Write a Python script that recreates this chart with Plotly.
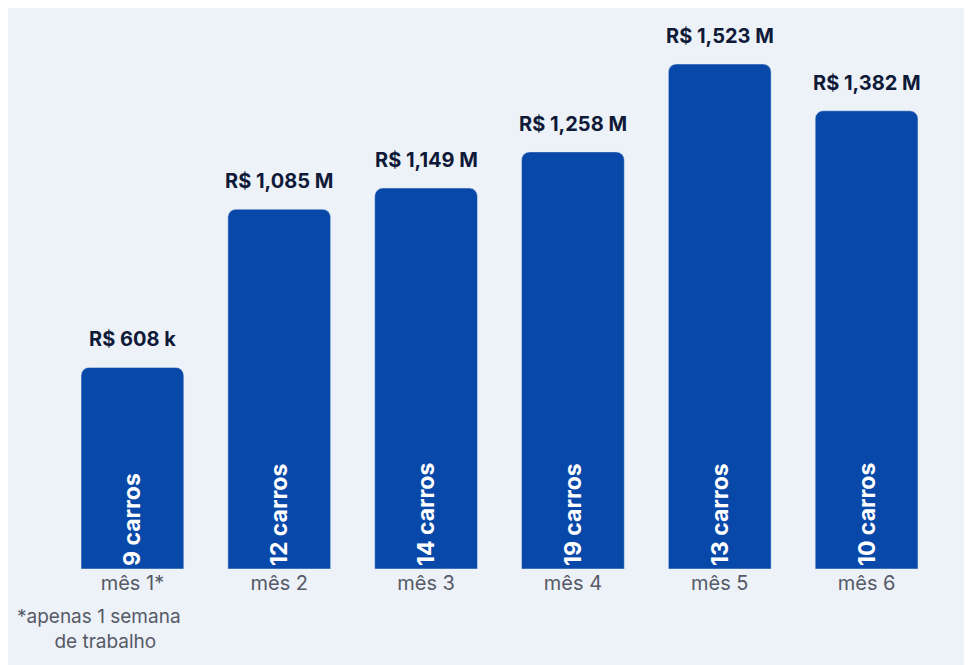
import plotly.graph_objects as go

meses = ["mês 1*", "mês 2", "mês 3", "mês 4", "mês 5", "mês 6"]
valores = [608, 1085, 1149, 1258, 1523, 1382]
rotulos = ["R$ 608 k", "R$ 1,085 M", "R$ 1,149 M", "R$ 1,258 M", "R$ 1,523 M", "R$ 1,382 M"]
carros = ["9 carros", "12 carros", "14 carros", "19 carros", "13 carros", "10 carros"]

fig = go.Figure(go.Bar(
    x=meses, y=valores, text=["<b>" + c + "</b>" for c in carros],
    marker=dict(color="#0848a8", cornerradius=8),
    textposition="inside", textangle=-90, insidetextanchor="start",
    textfont=dict(color="white", size=23, family="Inter"),
    hoverinfo="skip",
))

for m, v, r in zip(meses, valores, rotulos):
    fig.add_annotation(x=m, y=v, text="<b>" + r + "</b>", showarrow=False,
                       yanchor="bottom", yshift=14,
                       font=dict(size=20, color="#0f1a38", family="Inter"))

fig.add_annotation(xref="paper", yref="paper", x=-0.05, y=-0.06, xanchor="left", yanchor="top",
                   text="*apenas 1 semana<br>       de trabalho", align="left", showarrow=False,
                   font=dict(size=19, color="#555a66", family="Inter"))

fig.update_layout(
    width=972, height=665,
    margin=dict(l=51, r=40, t=0, b=104),
    paper_bgcolor="#edf1f8", plot_bgcolor="rgba(0,0,0,0)",
    bargap=0.3, showlegend=False,
    font=dict(family="Inter"),
    xaxis=dict(showgrid=False, showline=False, ticks="",
               tickfont=dict(size=20, color="#555a66")),
    yaxis=dict(range=[0, 1692], visible=False),
)
fig.write_html("out.html")
